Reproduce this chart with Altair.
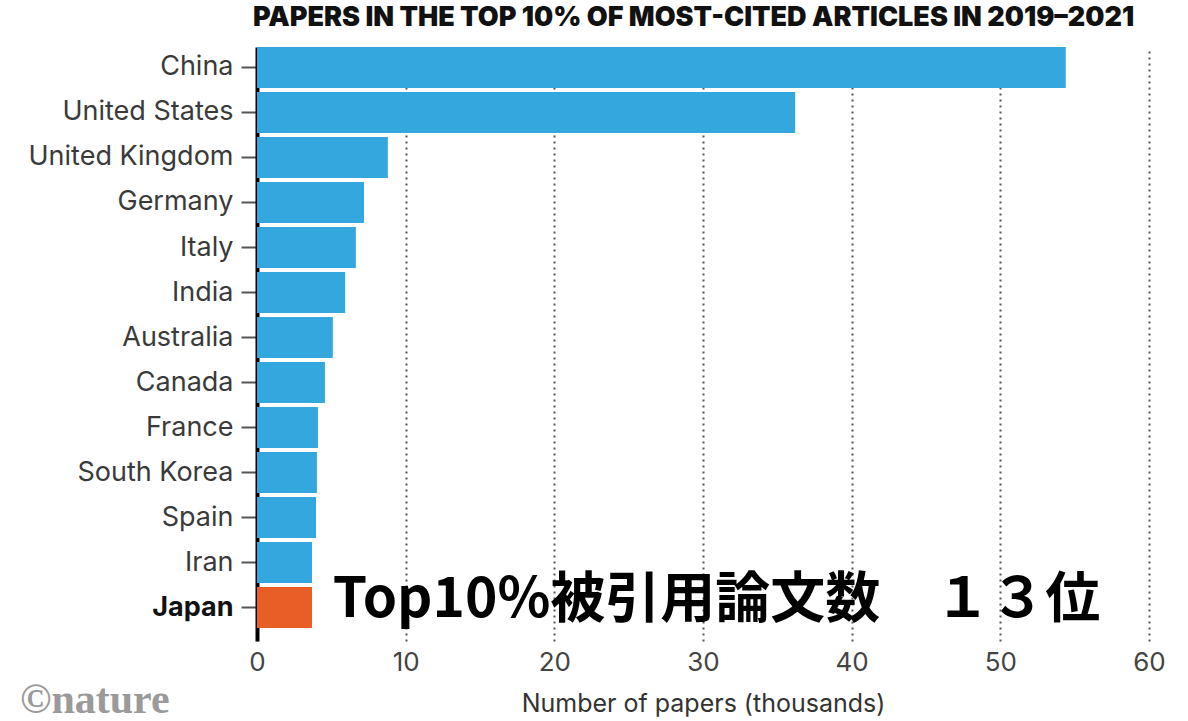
import altair as alt
import pandas as pd

countries = ["China", "United States", "United Kingdom", "Germany", "Italy", "India",
             "Australia", "Canada", "France", "South Korea", "Spain", "Iran", "Japan"]
papers = [54.4, 36.2, 8.8, 7.2, 6.65, 5.93, 5.1, 4.57, 4.1, 4.03, 3.97, 3.7, 3.7]
highlight = ["other"] * 12 + ["Japan"]
x_ticks = [0, 10, 20, 30, 40, 50, 60]

df = pd.DataFrame({"country": countries, "papers": papers, "group": highlight})
note = pd.DataFrame({"country": ["Japan"], "papers": [5.1], "label": ["Top10%被引用論文数　１３位"]})
logo = pd.DataFrame({"t": ["©nature"]})

yenc = alt.Y("country:N", sort=countries, title=None,
             scale=alt.Scale(paddingInner=0.09, paddingOuter=0.144, align=0),
             axis=alt.Axis(domainColor="black", domainWidth=4, tickColor="#555", tickWidth=2,
                           tickSize=16, labelPadding=8, labelFontSize=27, labelFont="Inter",
                           labelLimit=400,
                           labelColor={"condition": {"test": "datum.value == 'Japan'", "value": "#111"}, "value": "#3a3a3a"},
                           labelFontWeight={"condition": {"test": "datum.value == 'Japan'", "value": "bold"}, "value": "normal"}))

bars = alt.Chart(df).mark_bar().encode(
    x=alt.X("papers:Q", title="Number of papers (thousands)",
            scale=alt.Scale(domain=[0, 60], nice=False),
            axis=alt.Axis(values=x_ticks, grid=True, gridDash=[2, 4], gridColor="#555", gridWidth=2,
                          domain=False, ticks=False, labelPadding=8, labelFontSize=26, labelFlush=False,
                          labelFont="Inter", labelColor="#444", titleFont="Inter", titleFontSize=25,
                          titleFontWeight="normal", titleColor="#333", titlePadding=16)),
    y=yenc,
    color=alt.Color("group:N", scale=alt.Scale(domain=["other", "Japan"], range=["#34A7DE", "#E85E26"]),
                    legend=None),
)

text = alt.Chart(note).mark_text(align="left", baseline="middle", dy=-8, font="Noto Sans CJK JP",
                                 fontWeight="bold", fontSize=55, color="black").encode(
    x="papers:Q", y=alt.Y("country:N", sort=countries), text="label:N")

logo_t = alt.Chart(logo).mark_text(align="left", baseline="middle", font="Liberation Serif",
                                   fontWeight="bold", fontSize=42, color="#9a9a9a").encode(
    x=alt.value(-237), y=alt.value(653), text="t:N")

chart = alt.layer(bars, text, logo_t).properties(
    width=892, height=594,
    title=alt.TitleParams("PAPERS IN THE TOP 10% OF MOST-CITED ARTICLES IN 2019–2021",
                          anchor="start", frame="group", font="Inter", fontSize=27, fontWeight=900,
                          color="#111", offset=15, dx=-4),
    autosize=alt.AutoSizeParams(type="none"),
    padding={"left": 257, "top": 47, "right": 39, "bottom": 80},
).configure_view(stroke=None)

chart.save("out.html", embed_options={"renderer": "svg", "actions": False})
